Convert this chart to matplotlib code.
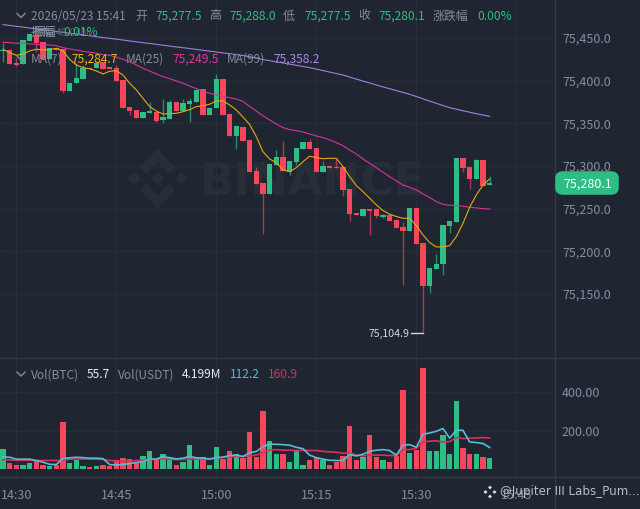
import matplotlib
matplotlib.use('Agg')
import matplotlib.pyplot as plt
from matplotlib.lines import Line2D
from matplotlib.patches import FancyBboxPatch, Polygon
from matplotlib.transforms import Affine2D

plt.rcParams['font.family'] = ['Noto Sans CJK SC', 'DejaVu Sans']

BASE = 75000

# prices are offsets from BASE
opens = [434.2, 435.9, 421.0, 419.5, 446.5, 453.5, 445.7, 425.4, 437.7, 437.1,
         387.9, 397.2, 402.0, 414.8, 414.8, 421.9, 415.4, 414.8, 400.8, 369.1,
         365.0, 355.7, 362.1, 363.3, 354.2, 355.0, 375.0, 364.4, 372.6, 375.0,
         389.6, 359.8, 368.0, 402.0, 360.3, 335.1, 346.0, 330.1, 294.1, 280.4,
         267.5, 301.2, 310.5, 293.3, 304.3, 319.6, 327.8, 320.7, 293.0, 299.6,
         299.2, 299.2, 273.0, 244.5, 241.7, 249.6, 250.0, 240.6, 242.6, 236.7,
         228.5, 223.8, 250.4, 209.4, 159.7, 179.3, 184.8, 229.7, 234.7, 309.7,
         299.2, 284.7, 307.0, 277.5]
closes = [435.9, 419.5, 418.4, 447.7, 454.7, 444.1, 425.4, 438.3, 435.9, 387.9,
          397.2, 403.1, 414.8, 413.1, 420.7, 413.7, 413.1, 399.6, 368.0, 364.4,
          355.7, 363.3, 364.4, 353.1, 356.8, 375.0, 364.4, 373.8, 376.2, 389.0,
          359.8, 368.0, 402.0, 359.8, 335.1, 346.9, 328.9, 292.6, 278.9, 267.5,
          302.3, 310.5, 294.1, 305.5, 320.7, 327.8, 319.6, 292.6, 300.0, 298.0,
          297.3, 272.2, 243.7, 242.2, 250.0, 247.6, 241.0, 242.6, 235.9, 227.7,
          223.8, 250.4, 208.6, 159.7, 180.4, 185.5, 230.5, 235.5, 309.7, 298.0,
          284.7, 307.0, 276.9, 280.1]
highs = [444.1, 436.5, 426.6, 447.7, 454.7, 455.9, 445.7, 438.3, 437.7, 437.1,
         397.2, 420.7, 418.4, 414.8, 420.7, 421.9, 415.4, 418.4, 400.8, 369.1,
         365.0, 363.3, 375.0, 363.3, 378.5, 377.3, 375.0, 378.5, 379.7, 389.0,
         389.6, 368.0, 407.8, 402.0, 360.3, 346.9, 346.0, 330.1, 299.2, 280.4,
         302.3, 318.7, 329.6, 305.5, 320.7, 327.8, 331.3, 320.7, 305.8, 299.6,
         309.0, 299.2, 273.0, 244.5, 250.0, 249.6, 250.0, 243.7, 242.6, 236.7,
         234.0, 250.4, 250.4, 209.4, 180.4, 196.5, 230.5, 235.5, 309.7, 309.7,
         299.2, 308.2, 307.0, 288.0]
lows = [421.9, 419.0, 417.5, 419.5, 446.5, 433.6, 425.4, 425.4, 435.9, 385.5,
        387.9, 397.2, 402.0, 413.1, 414.8, 413.7, 413.1, 399.6, 368.0, 359.8,
        355.7, 355.7, 362.1, 351.5, 349.8, 355.0, 364.4, 364.4, 351.5, 375.0,
        359.8, 359.8, 368.0, 359.8, 335.1, 319.9, 328.9, 292.6, 278.9, 219.9,
        267.5, 301.2, 294.1, 289.4, 301.2, 319.6, 319.6, 292.6, 293.0, 298.0,
        297.3, 264.8, 235.9, 242.2, 241.7, 219.1, 238.7, 239.0, 235.9, 227.7,
        160.5, 223.8, 208.6, 104.9, 150.8, 179.3, 172.2, 221.8, 234.7, 293.3,
        272.7, 284.7, 276.9, 277.5]

ma7 = [436.8, 432.8, 429.7, 431.2, 434.8, 436.8, 435.9, 436.3, 437.9, 434.8,
       425.0, 418.4, 415.2, 414.0, 411.3, 407.8, 411.0, 411.7, 406.6, 396.9,
       389.1, 379.3, 369.5, 364.4, 360.9, 361.3, 361.7, 363.6, 366.0, 369.5,
       370.7, 372.3, 376.2, 376.2, 371.5, 365.6, 357.4, 348.6, 334.3, 316.7,
       308.2, 303.9, 295.7, 293.3, 298.0, 305.0, 311.4, 309.7, 308.5, 309.0,
       309.0, 299.2, 287.5, 277.0, 269.9, 262.2, 254.4, 247.7, 243.5, 240.7,
       238.7, 238.7, 230.1, 219.2, 210.1, 205.1, 205.1, 206.6, 217.1, 232.8,
       251.6, 266.0, 277.7, 284.7]
ma25 = [445.0, 444.5, 443.8, 443.8, 443.0, 442.6, 442.1, 441.8, 441.0, 438.6,
        437.1, 435.9, 434.4, 433.2, 432.1, 430.4, 429.7, 427.4, 425.0, 422.2,
        418.4, 414.5, 411.3, 407.8, 404.6, 402.3, 399.6, 396.9, 393.7, 390.6,
        387.5, 385.2, 383.2, 381.7, 380.0, 378.5, 375.6, 369.7, 364.4, 358.9,
        353.9, 349.2, 344.9, 342.5, 341.4, 339.8, 337.5, 335.1, 333.2, 330.5,
        327.3, 323.8, 318.7, 314.0, 308.2, 303.1, 298.0, 292.6, 287.4, 282.4,
        277.7, 275.0, 271.9, 267.2, 262.9, 258.2, 255.1, 254.0, 253.5, 252.8,
        251.6, 250.8, 250.0, 249.5]
ma99 = [465.6, 464.7, 463.7, 462.7, 461.6, 460.6, 459.6, 458.7, 457.6, 456.6,
        455.6, 454.6, 453.6, 452.6, 451.5, 450.5, 449.6, 448.6, 447.6, 446.5,
        445.5, 444.5, 443.6, 442.5, 441.5, 440.5, 439.5, 438.6, 437.6, 436.6,
        435.6, 434.6, 433.5, 432.5, 431.5, 430.5, 429.5, 428.0, 426.5, 424.8,
        423.4, 422.0, 420.7, 419.4, 418.0, 416.6, 415.2, 413.5, 411.8, 410.0,
        408.3, 406.6, 404.2, 401.8, 399.5, 397.2, 394.9, 392.7, 390.5, 388.3,
        386.2, 384.0, 381.4, 378.7, 376.0, 373.4, 370.8, 368.3, 366.5, 364.7,
        363.0, 361.2, 359.7, 358.2]

volumes = [106, 31, 23, 19, 30, 40, 21, 17, 21, 248,
           33, 47, 17, 9, 17, 21, 14, 44, 59, 51,
           35, 65, 92, 49, 79, 56, 21, 35, 126, 61,
           61, 23, 117, 51, 92, 80, 58, 195, 61, 304,
           145, 80, 80, 38, 96, 23, 47, 61, 49, 23,
           35, 65, 222, 44, 61, 176, 61, 49, 38, 70,
           414, 84, 99, 530, 92, 96, 175, 79, 358, 110,
           79, 79, 61, 55.7]
vol_ma_blue = [63, 61, 51, 51, 51, 44, 35, 24, 23, 54,
               58, 61, 59, 56, 56, 54, 23, 21, 23, 28,
               33, 38, 51, 52, 63, 59, 52, 56, 65, 58,
               56, 51, 59, 61, 70, 72, 65, 85, 91, 117,
               129, 129, 127, 124, 113, 106, 72, 59, 51, 45,
               44, 44, 75, 68, 77, 92, 98, 101, 96, 72,
               124, 127, 113, 181, 188, 197, 211, 161, 202, 202,
               141, 138, 133, 112.2]
vol_ma_red = [47, 47, 45, 45, 45, 44, 44, 44, 44, 44,
              51, 52, 52, 51, 51, 49, 44, 40, 38, 40,
              44, 45, 47, 51, 52, 51, 49, 49, 51, 52,
              52, 54, 58, 61, 63, 65, 65, 68, 72, 85,
              99, 101, 98, 98, 96, 98, 96, 96, 92, 89,
              87, 82, 85, 72, 68, 72, 72, 72, 70, 70,
              101, 101, 108, 141, 145, 147, 141, 143, 164, 159,
              161, 162, 164, 160.9]

price_ticks = [75150, 75200, 75250, 75300, 75350, 75400, 75450]
vol_ticks = [200, 400]
time_ticks = [2, 17, 32, 47, 62, 77]
time_labels = ['14:30', '14:45', '15:00', '15:15', '15:30', '15:45']

BG = '#1f2631'
GRID = '#272e39'
LINE = '#333a45'
GRAY = '#848e9c'
UP = '#2ebd85'
DOWN = '#f6465d'
W, H = 640, 509

fig = plt.figure(figsize=(6.4, 5.09), dpi=100, facecolor=BG)
ax = fig.add_axes([0, (H - 358) / H, 555 / W, 358 / H], facecolor=BG)
ax_vol = fig.add_axes([0, (H - 477) / H, 555 / W, 119 / H], facecolor=BG)

# watermark, in pixels from top left
px = Affine2D().scale(1, -1).translate(0, H)
wm = '#282e38'
cx, cy = 157.7, 178.7
for dx, dy, r in [(0, 0, 6.5), (-23.4, 0, 6.5), (23.4, 0, 6.5)]:
    ax.add_patch(Polygon([(cx + dx - r, cy + dy), (cx + dx, cy + dy - r),
                          (cx + dx + r, cy + dy), (cx + dx, cy + dy + r)],
                         transform=px, color=wm, lw=0, zorder=1))
for s in (-1, 1):
    ax.add_patch(Polygon([(cx, cy + s * 29.5), (cx + 18, cy + s * 11.5), (cx + 11.5, cy + s * 5),
                          (cx, cy + s * 16.5), (cx - 11.5, cy + s * 5), (cx - 18, cy + s * 11.5)],
                         transform=px, color=wm, lw=0, zorder=1))
ax.text(200, 195, 'BINANCE', transform=px, color=wm, fontsize=32.5, fontweight='bold',
        family='DejaVu Sans', ha='left', va='baseline', zorder=1)

x = list(range(len(opens)))
price = lambda v: [BASE + a for a in v]
for i in x:
    up = closes[i] >= opens[i]
    c = UP if up else DOWN
    ax.vlines(i, BASE + lows[i], BASE + highs[i], color=c, lw=1, alpha=0.65, zorder=3)
    bottom = min(opens[i], closes[i])
    ax.bar(i, abs(closes[i] - opens[i]), bottom=BASE + bottom, width=0.76, color=c, zorder=4)

ax.plot(x, price(ma99), color='#a07fe0', lw=0.8, zorder=5)
ax.plot(x, price(ma25), color='#d6339f', lw=0.8, zorder=5)
ax.plot(x, price(ma7), color='#e8a80c', lw=0.8, zorder=6)

ax.set_xlim(-0.445, 82.8)
ax.set_ylim(BASE + 74.9, BASE + 494.5)
ax.set_xticks(time_ticks)
ax.set_xticklabels([])
ax.set_yticks(price_ticks)
ax.set_yticklabels(['{:,.1f}'.format(v) for v in price_ticks])
ax.yaxis.tick_right()
ax.tick_params(axis='both', length=0, labelcolor=GRAY, labelsize=9, pad=5)
ax.grid(True, color=GRID, lw=1, zorder=0)
ax.set_axisbelow(True)
for sp in ax.spines.values():
    sp.set_visible(False)

ax_vol.bar(x, volumes, width=0.76, color=[UP if closes[i] >= opens[i] else DOWN for i in x], zorder=3)
ax_vol.plot(x, vol_ma_red, color='#d6305f', lw=1.2, zorder=4)
ax_vol.plot(x, vol_ma_blue, color='#55bdd6', lw=1.2, zorder=5)
ax_vol.set_xlim(-0.445, 82.8)
ax_vol.set_ylim(-42.4, 580.6)
ax_vol.set_xticks(time_ticks)
ax_vol.set_xticklabels(time_labels)
ax_vol.set_yticks(vol_ticks)
ax_vol.set_yticklabels(['{:.2f}'.format(v) for v in vol_ticks])
ax_vol.yaxis.tick_right()
ax_vol.tick_params(axis='y', length=0, labelcolor=GRAY, labelsize=9, pad=5)
ax_vol.tick_params(axis='x', length=0, labelcolor=GRAY, labelsize=9, pad=8.5)
ax_vol.grid(True, color=GRID, lw=1, zorder=0)
for sp in ax_vol.spines.values():
    sp.set_visible(False)

for line in [([555 / W, 555 / W], [0, 1]),
             ([0, 1], [(H - 358) / H, (H - 358) / H]),
             ([0, 1], [(H - 477) / H, (H - 477) / H])]:
    fig.add_artist(Line2D(line[0], line[1], color=LINE, lw=1))


def label(xp, yp, s, color=GRAY, size=8.6, **kw):
    fig.text(xp / W, 1 - yp / H, s, color=color, fontsize=size, va='center', ha='left', zorder=10, **kw)


def chevron(xp, yp):
    fig.add_artist(Line2D([(xp - 4) / W, xp / W, (xp + 4) / W],
                          [1 - (yp - 2) / H, 1 - (yp + 2) / H, 1 - (yp - 2) / H],
                          color=GRAY, lw=1))


chevron(21, 15.5)
row1 = [(31, '2026/05/23 15:41', GRAY), (135, '开', GRAY), (155, '75,277.5', UP),
        (209, '高', GRAY), (229, '75,288.0', UP), (283, '低', GRAY), (304, '75,277.5', UP),
        (358, '收', GRAY), (378, '75,280.1', UP), (433, '涨跌幅', GRAY), (477, '0.00%', UP)]
for xp, s, c in row1:
    label(xp, 16, s, c)
label(31, 32, '振幅', GRAY)
label(33, 32.5, '振幅', GRAY)
label(56, 32.5, '48.04%', '#4e6a68', size=7.5)
label(63, 32, '0.01%', UP)

chevron(21, 58)
row3 = [(31, 'MA(7)', GRAY), (71, '75,284.7', '#f0b90b'), (126, 'MA(25)', GRAY),
        (172, '75,249.5', '#e0349f'), (227, 'MA(99)', GRAY), (273, '75,358.2', '#a988e6')]
for xp, s, c in row3:
    label(xp, 59, s, c)

chevron(21, 374)
row4 = [(31, 'Vol(BTC)', GRAY), (87, '55.7', '#eaecef'), (118, 'Vol(USDT)', GRAY),
        (182, '4.199M', '#eaecef'), (230, '112.2', '#55bdd6'), (268, '160.9', '#d6305f')]
for xp, s, c in row4:
    label(xp, 375, s, c)

# low marker
label(369, 334, '75,104.9', '#d5d8dc', size=7.6)
fig.add_artist(Line2D([411 / W, 423 / W], [1 - 333 / H, 1 - 333 / H], color='#d5d8dc', lw=1))

# last price tag
fig.add_artist(FancyBboxPatch((558 / W, 1 - 192 / H), 58 / W, 18 / H,
                              boxstyle='round,pad=0,rounding_size=0.008', mutation_aspect=1,
                              fc=UP, ec=UP, lw=4, transform=fig.transFigure, zorder=9))
label(563, 184, '75,280.1', '#ffffff', size=9)

# credit
label(500, 492, '@Jupiter III Labs_Pum...', '#b7bdc6', size=8.6, family='DejaVu Sans')
fx, fy = 490, 492
for dx, dy in [(0, -4.5), (4.5, 0), (0, 4.5), (-4.5, 0)]:
    fig.patches.append(Polygon([((fx + dx - 2) / W, 1 - (fy + dy) / H), ((fx + dx) / W, 1 - (fy + dy - 2) / H),
                                ((fx + dx + 2) / W, 1 - (fy + dy) / H), ((fx + dx) / W, 1 - (fy + dy + 2) / H)],
                               transform=fig.transFigure, color='#d5d8dc', lw=0))

fig.savefig('out.png', dpi=100, facecolor=BG)
